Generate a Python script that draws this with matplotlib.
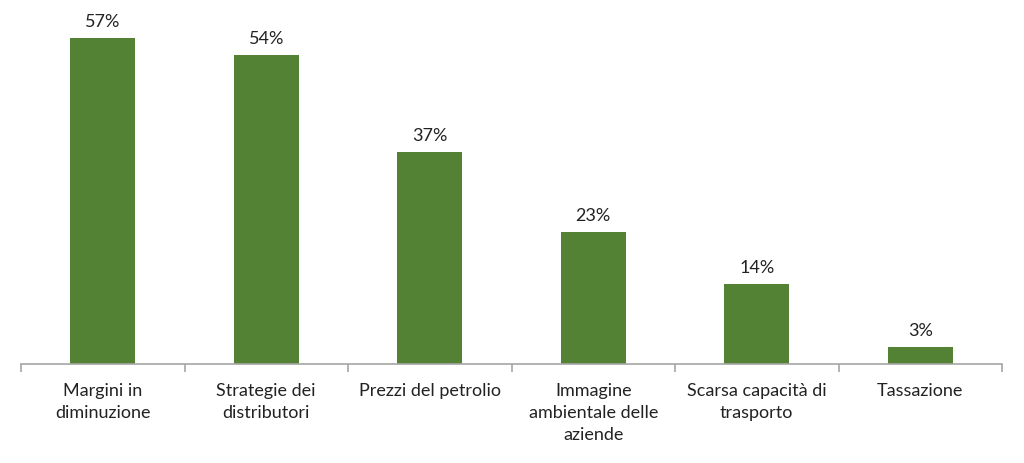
import matplotlib.pyplot as plt
import numpy as np

plt.rcParams['font.family'] = ['Lato', 'DejaVu Sans']

# --- dati ---
categories = ['Margini in\ndiminuzione', 'Strategie dei\ndistributori', 'Prezzi del petrolio',
              'Immagine\nambientale delle\naziende', 'Scarsa capacità di\ntrasporto', 'Tassazione']
values = [57, 54, 37, 23, 14, 3]

BAR_COLOR = '#548235'
AXIS_COLOR = '#A6A6A6'

fig = plt.figure(figsize=(10.24, 4.63), dpi=100)
ax = fig.add_axes([21 / 1024, 99 / 463, 981 / 1024, 364 / 463])

x = np.arange(len(categories))
ax.bar(x, values, width=0.4, color=BAR_COLOR)

for xi, v in zip(x, values):
    ax.text(xi, v + 1.4, f'{v}%', ha='center', va='bottom', fontsize=13, color='#222222')

ax.set_xlim(-0.5, len(categories) - 0.5)
ax.set_ylim(0, 63.6)

# stile asse
for s in ['top', 'right', 'left']:
    ax.spines[s].set_visible(False)
ax.spines['bottom'].set_color(AXIS_COLOR)
ax.spines['bottom'].set_linewidth(1.2)
ax.set_yticks([])

ax.set_xticks(x)
ax.set_xticklabels(categories, fontsize=13, linespacing=1.45, va='top', color='#222222')
ax.tick_params(axis='x', which='major', length=0, pad=14)
ax.set_xticks(np.arange(-0.5, len(categories)), minor=True)
ax.tick_params(axis='x', which='minor', length=6, color=AXIS_COLOR, width=1.2)

fig.savefig('out.png', dpi=100)
